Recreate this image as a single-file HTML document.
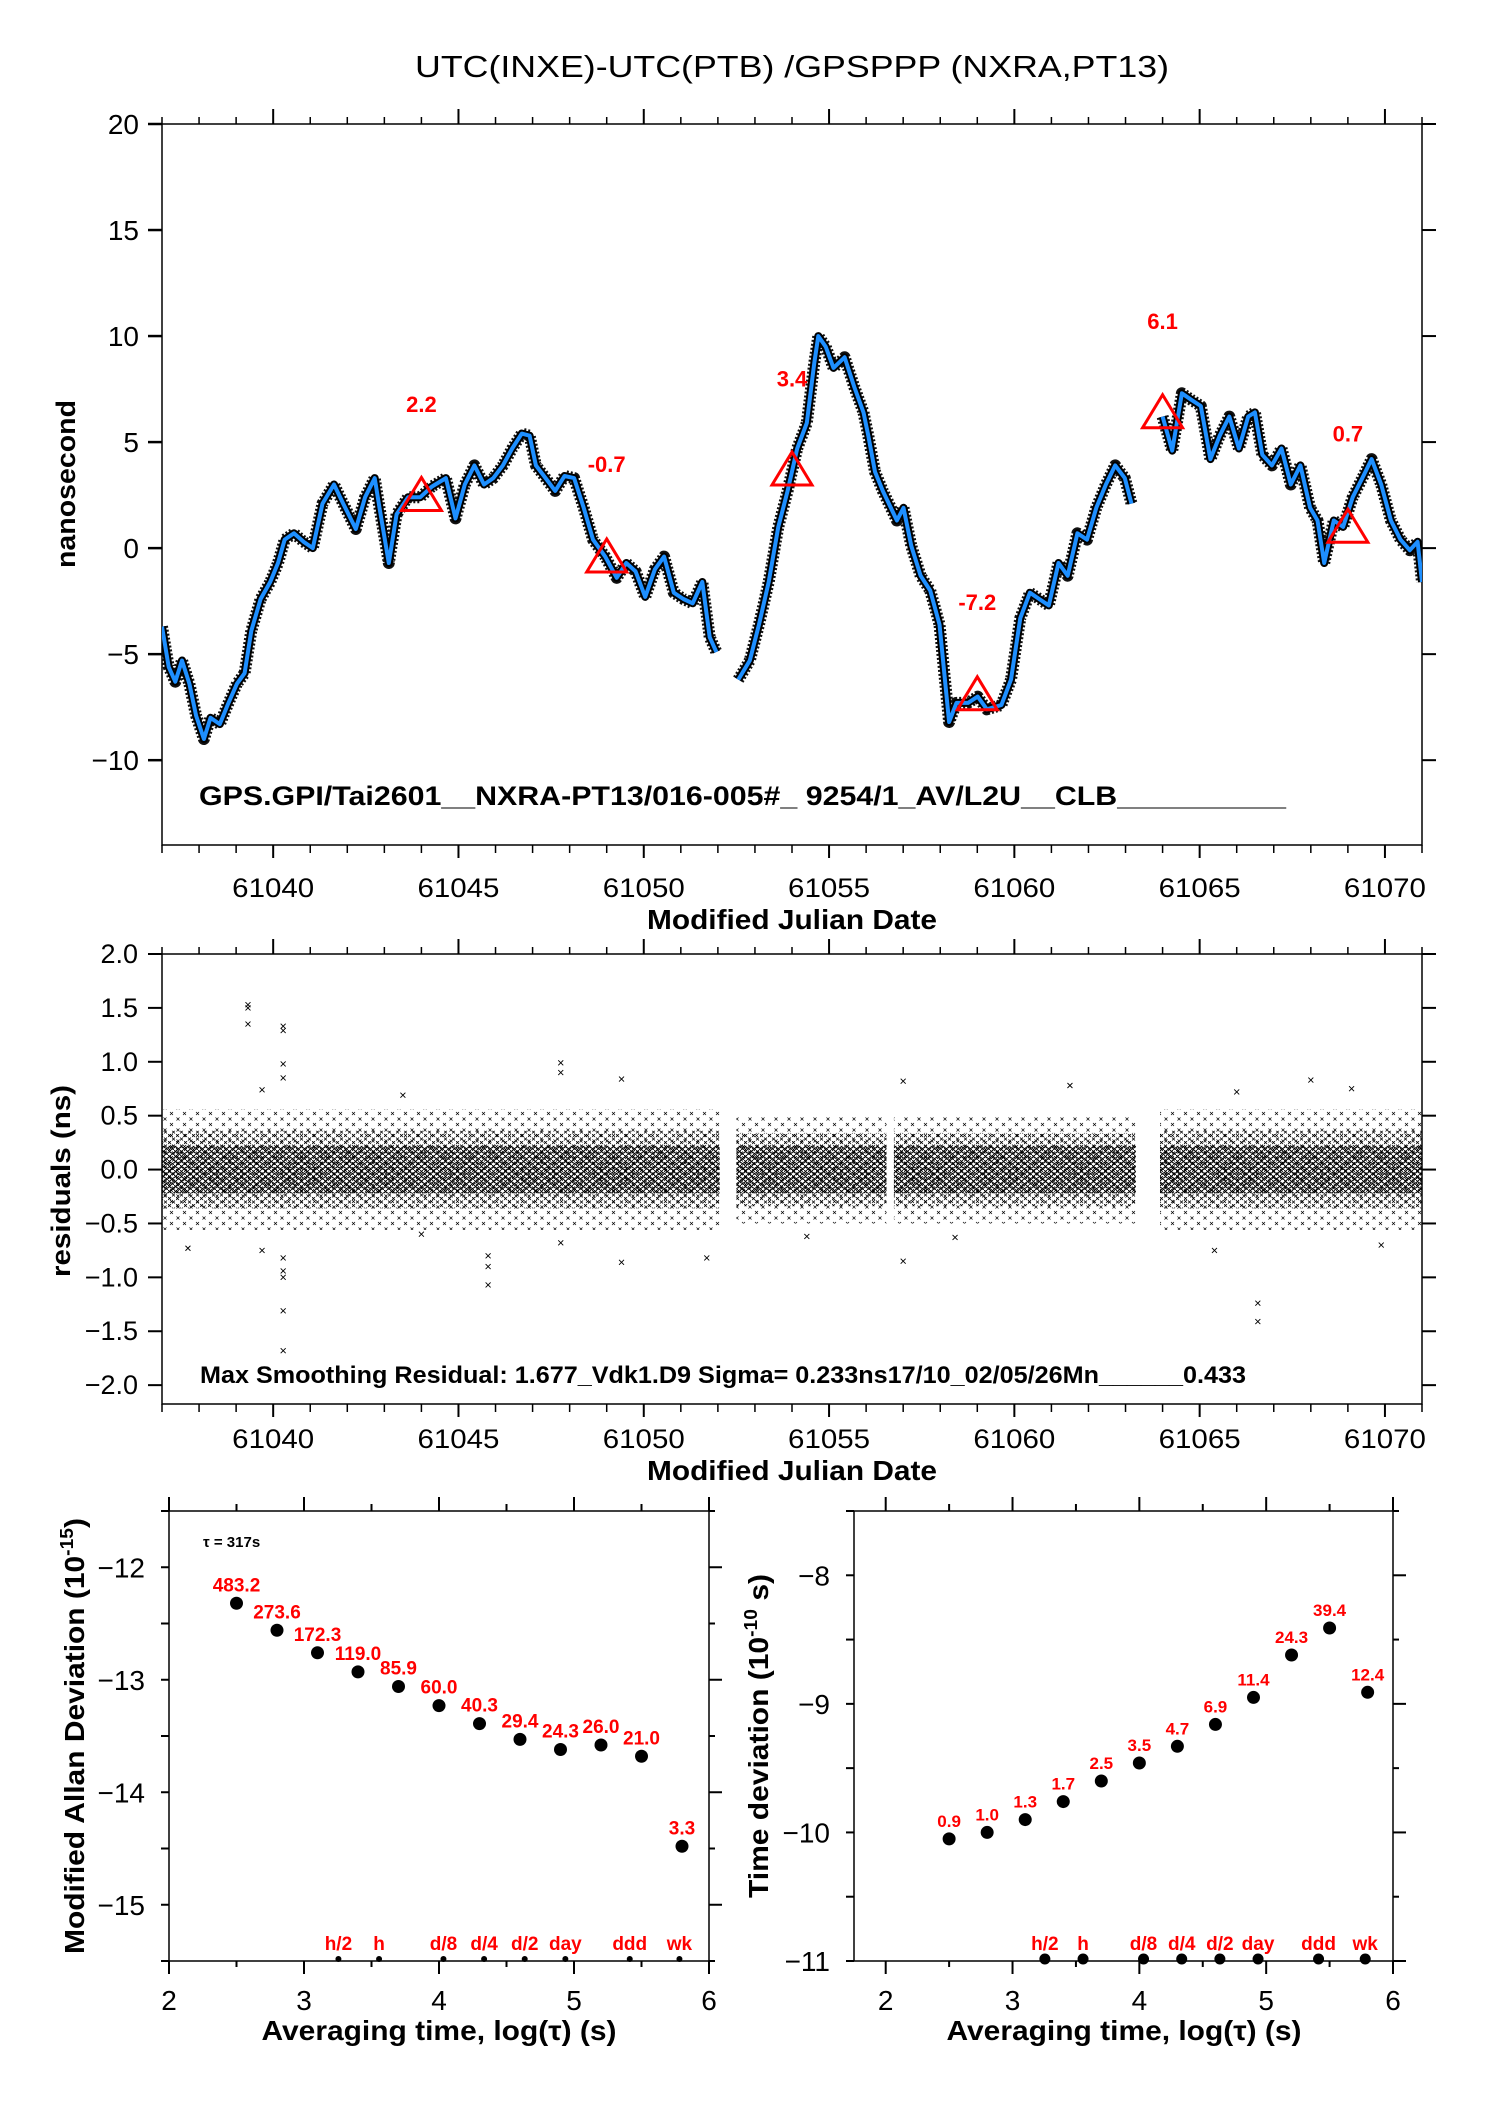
<!DOCTYPE html>
<html><head><meta charset="utf-8"><title>UTC(INXE)-UTC(PTB) GPSPPP</title>
<style>
html,body{margin:0;padding:0;background:#fff;}
svg{display:block;}
text{font-family:"Liberation Sans",Arial,sans-serif;}
</style></head>
<body>
<svg id="root" xmlns="http://www.w3.org/2000/svg" width="1488" height="2105" viewBox="0 0 1488 2105">
<defs>
<pattern id="xdense" patternUnits="userSpaceOnUse" width="6" height="5">
<path d="M0,0l3,3M3,0l-3,3M3,2.5l3,2.5M6,2.5l-3,2.5" stroke="#000" stroke-width="0.9" fill="none"/>
</pattern>
<pattern id="xmid" patternUnits="userSpaceOnUse" width="8" height="7">
<path d="M0,0l3,3M3,0l-3,3M4,3.5l3,3M7,3.5l-3,3" stroke="#000" stroke-width="0.8" fill="none"/>
</pattern>
<pattern id="xsparse" patternUnits="userSpaceOnUse" width="13" height="11">
<path d="M1,1l3,3M4,1l-3,3M7.5,6.5l3,3M10.5,6.5l-3,3" stroke="#000" stroke-width="0.7" fill="none"/>
</pattern>
<clipPath id="clipTop"><rect x="162" y="124" width="1260" height="721"/></clipPath>
<clipPath id="clipMid"><rect x="162" y="954" width="1260" height="450"/></clipPath>
</defs>
<rect width="1488" height="2105" fill="#fff"/>
<text x="792" y="77" text-anchor="middle" font-size="31" textLength="754" lengthAdjust="spacingAndGlyphs">UTC(INXE)-UTC(PTB)  /GPSPPP  (NXRA,PT13)</text>
<g id="gTop"></g>
<g id="gMid"></g>
<g id="gL"></g>
<g id="gR"></g>
</svg>
<script>
// ---------- time series (top) ----------
const tsDayOffset = [0,0.18,0.36,0.54,0.74,0.92,1.13,1.31,1.56,1.77,2.02,2.23,2.41,2.66,2.92,3.13,3.31,3.56,3.82,4.07,4.33,4.64,4.89,5.23,5.48,5.74,5.87,6.12,6.33,6.64,6.97,7.28,7.66,7.92,8.17,8.43,8.69,8.94,9.20,9.45,9.71,9.92,10.09,10.35,10.61,10.86,11.12,11.38,11.63,11.96,12.27,12.53,12.78,13.04,13.30,13.55,13.81,14.07,14.32,14.58,14.78,14.96,
15.55,15.86,16.11,16.37,16.63,16.88,17.14,17.40,17.60,17.71,17.91,18.12,18.42,18.68,18.93,19.06,19.24,19.45,
19.83,20.01,20.22,20.47,20.73,20.98,21.24,21.44,21.75,22.01,22.26,22.65,22.91,23.16,23.42,23.67,23.93,24.19,24.44,24.70,24.96,25.21,25.47,25.72,25.98,26.16,
27.00,27.26,27.52,27.77,28.03,28.29,28.54,28.80,29.06,29.31,29.49,29.69,29.95,30.21,30.46,30.72,30.98,31.18,31.36,31.62,31.87,32.13,32.39,32.64,32.90,33.16,33.42,33.67,33.88,34.00];
const tsValue = [-3.7,-5.6,-6.3,-5.3,-6.4,-7.9,-9.0,-8.0,-8.3,-7.4,-6.4,-5.9,-3.9,-2.4,-1.6,-0.7,0.4,0.7,0.3,0.0,2.1,3.0,2.1,0.9,2.4,3.3,1.9,-0.7,1.6,2.4,2.4,2.9,3.3,1.4,3.0,3.9,3.0,3.3,3.9,4.7,5.4,5.3,3.9,3.3,2.7,3.4,3.3,1.9,0.4,-0.4,-1.4,-0.7,-1.1,-2.3,-1.0,-0.4,-2.1,-2.4,-2.6,-1.6,-4.2,-4.9,
-6.2,-5.3,-3.6,-1.6,1.0,2.7,4.7,5.9,8.7,10.0,9.5,8.5,9.0,7.6,6.4,5.3,3.6,2.7,
1.3,1.9,0.1,-1.3,-2.0,-3.6,-8.2,-7.3,-7.3,-7.0,-7.6,-7.4,-6.2,-3.3,-2.1,-2.4,-2.7,-0.7,-1.3,0.7,0.4,1.9,3.0,3.9,3.3,2.1,
6.2,4.6,7.3,7.0,6.7,4.2,5.3,6.2,4.7,6.2,6.4,4.4,3.9,4.7,3.0,3.9,1.9,1.3,-0.7,1.3,1.0,2.4,3.3,4.2,3.0,1.3,0.4,-0.1,0.3,-1.6];
const triMJD = [61044,61049,61054,61059,61064,61069];
const triValue = [2.2,-0.7,3.4,-7.2,6.1,0.7];
const triLabelY = [6.8,3.96,8.0,-2.55,10.7,5.4];
const topYTicks = [-10,-5,0,5,10,15,20];
const mjdTicks = [61040,61045,61050,61055,61060,61065,61070];
// ---------- residuals (middle) ----------
const resSegStart = [61037.0,61052.5,61056.75,61063.93];
const resSegEnd = [61052.05,61056.55,61063.28,61071.0];
const resDenseHalf = [0.22,0.22,0.22,0.22];
const resMidHalf = [0.36,0.34,0.34,0.36];
const resSparseHalf = [0.56,0.5,0.5,0.56];
const outMJD = [61039.32,61039.32,61039.32,61040.27,61040.27,61040.27,61040.27,61040.27,61040.27,61040.27,61040.27,61040.27,61045.8,61045.8,61045.8,61047.76,61047.76,61047.76,61049.4,61049.4,61066.57,61066.57,61037.7,61044.0,61039.7,61039.7,61057.0,61057.0,61066.0,61068.0,61043.5,61051.7,61054.4,61058.4,61061.5,61065.4,61069.1,61069.9];
const outValue = [1.5,1.53,1.35,1.33,1.29,0.98,0.85,-0.82,-0.94,-1.0,-1.31,-1.68,-1.07,-0.9,-0.8,0.99,0.9,-0.68,0.84,-0.86,-1.24,-1.41,-0.73,-0.6,0.74,-0.75,0.82,-0.85,0.72,0.83,0.69,-0.82,-0.62,-0.63,0.78,-0.75,0.75,-0.7];
const midYTicks = [-2.0,-1.5,-1.0,-0.5,0.0,0.5,1.0,1.5,2.0];
// ---------- modified Allan deviation (bottom left) ----------
const logTau = [2.5,2.8,3.1,3.4,3.7,4.0,4.3,4.6,4.9,5.2,5.5,5.8];
const madValue = [-12.32,-12.56,-12.76,-12.93,-13.06,-13.23,-13.39,-13.53,-13.62,-13.58,-13.68,-14.48];
const madLabels = ["483.2","273.6","172.3","119.0","85.9","60.0","40.3","29.4","24.3","26.0","21.0","3.3"];
const madYTicks = [-15,-14,-13,-12];
// ---------- time deviation (bottom right) ----------
const tdevValue = [-10.05,-10.0,-9.90,-9.76,-9.60,-9.46,-9.33,-9.16,-8.95,-8.62,-8.41,-8.91];
const tdevLabels = ["0.9","1.0","1.3","1.7","2.5","3.5","4.7","6.9","11.4","24.3","39.4","12.4"];
const tdevYTicks = [-11,-10,-9,-8];
const markLog = [3.255,3.556,4.033,4.334,4.635,4.936,5.413,5.781];
const markLabels = ["h/2","h","d/8","d/4","d/2","day","ddd","wk"];
const logTicks = [2,3,4,5,6];

const NS='http://www.w3.org/2000/svg';
function mk(parent,tag,attrs,txt){const e=document.createElementNS(NS,tag);for(const k in attrs)e.setAttribute(k,attrs[k]);if(txt!==undefined)e.textContent=txt;parent.appendChild(e);return e;}
function fmtNeg(v,d){const s=Math.abs(v).toFixed(d);return (v<0?'\u2212':'')+s;}

const xT=m=>162+(m-61037)*1260/34;
const yT=v=>124+(20-v)*721/34;
const yM=v=>954+(2-v)*450/4.175;
const xL=l=>169+(l-2)*135;
const yL=v=>1511+(-11.5-v)*112.5;
const xR=l=>854+(l-1.75)*539/4.25;
const yR=v=>1511+(-7.5-v)*450/3.5;

// ===== TOP =====
const gTop=document.getElementById('gTop');
let fr=mk(gTop,'rect',{x:162,y:124,width:1260,height:721,fill:'none',stroke:'#000','stroke-width':1.5});


function mjdAxis(g,top,bot,labY,name){
  for(let d=61037;d<=61071;d++){
    const x=xT(d);const maj=d%5===0;
    let t=mk(g,'line',{x1:x,y1:top,x2:x,y2:top-(maj?15:7),stroke:'#000','stroke-width':maj?2:1.5});
    
    
    let b=mk(g,'line',{x1:x,y1:bot,x2:x,y2:bot+(maj?13:8),stroke:'#000','stroke-width':maj?2:1.5});
    
    
  }
  mjdTicks.forEach(d=>{
    let l=mk(g,'text',{x:xT(d),y:labY,'text-anchor':'middle','font-size':27,textLength:82,lengthAdjust:'spacingAndGlyphs'},String(d));
    
    
  });
  let xl=mk(g,'text',{x:792,y:labY+32,'text-anchor':'middle','font-size':28,'font-weight':'bold',textLength:290,lengthAdjust:'spacingAndGlyphs'},'Modified Julian Date');
  
  
}
mjdAxis(gTop,124,845,897,'top-x-axis-title');
topYTicks.forEach(v=>{
  const y=yT(v);
  let t=mk(gTop,'line',{x1:148,y1:y,x2:162,y2:y,stroke:'#000','stroke-width':2.5});
  
  
  let t2=mk(gTop,'line',{x1:1422,y1:y,x2:1436,y2:y,stroke:'#000','stroke-width':2});
  
  
  let l=mk(gTop,'text',{x:139,y:y+10,'text-anchor':'end','font-size':28},fmtNeg(v,0));
  
  
});
let yt=mk(gTop,'text',{x:0,y:0,'text-anchor':'middle','font-size':27,'font-weight':'bold',transform:'translate(75,484) rotate(-90)',textLength:168,lengthAdjust:'spacingAndGlyphs'},'nanosecond');


const segs=[];let cur=[];
for(let i=0;i<tsDayOffset.length;i++){
  if(i>0&&tsDayOffset[i]-tsDayOffset[i-1]>0.45){segs.push(cur);cur=[];}
  cur.push([xT(61037+tsDayOffset[i]),yT(tsValue[i])]);
}
segs.push(cur);
const gs=mk(gTop,'g',{'clip-path':'url(#clipTop)'});


segs.forEach(s=>{
  const d='M'+s.map(p=>p[0].toFixed(1)+','+p[1].toFixed(1)).join('L');
  let b=mk(gs,'path',{d:d,fill:'none',stroke:'#111','stroke-width':12,'stroke-linejoin':'round','stroke-dasharray':'2 2'});
  
  
  let b2=mk(gs,'path',{d:d,fill:'none',stroke:'#000','stroke-width':8,'stroke-linejoin':'round'});
  
  
  let ln=mk(gs,'path',{d:d,fill:'none',stroke:'#1e8fff','stroke-width':4,'stroke-linejoin':'round'});
  
  
});
triMJD.forEach((m,i)=>{
  const x=xT(m),y=yT(triValue[i]);
  let tr=mk(gTop,'path',{d:`M${x},${y-24}L${x+20},${y+9}L${x-20},${y+9}Z`,fill:'none',stroke:'#ff0000','stroke-width':3});
  
  
  let tl=mk(gTop,'text',{x:x,y:yT(triLabelY[i])+8,'text-anchor':'middle','font-size':22,'font-weight':'bold',fill:'#ff0000'},triValue[i].toFixed(1));
  
  
});
let ann=mk(gTop,'text',{x:199,y:805,'font-size':27,'font-weight':'bold',textLength:1087,lengthAdjust:'spacingAndGlyphs'},'GPS.GPI/Tai2601__NXRA-PT13/016-005#_  9254/1_AV/L2U__CLB__________');



// ===== MIDDLE =====
const gMid=document.getElementById('gMid');
let fr2=mk(gMid,'rect',{x:162,y:954,width:1260,height:450,fill:'none',stroke:'#000','stroke-width':1.5});


mjdAxis(gMid,954,1404,1448,'mid-x-axis-title');
midYTicks.forEach(v=>{
  const y=yM(v);
  let t=mk(gMid,'line',{x1:148,y1:y,x2:162,y2:y,stroke:'#000','stroke-width':2});
  
  
  let t2=mk(gMid,'line',{x1:1422,y1:y,x2:1436,y2:y,stroke:'#000','stroke-width':2});
  
  
  let l=mk(gMid,'text',{x:138,y:y+9,'text-anchor':'end','font-size':27},fmtNeg(v,1));
  
  
});
let yt2=mk(gMid,'text',{x:0,y:0,'text-anchor':'middle','font-size':27,'font-weight':'bold',transform:'translate(70,1181) rotate(-90)',textLength:192,lengthAdjust:'spacingAndGlyphs'},'residuals (ns)');


const gr=mk(gMid,'g',{'clip-path':'url(#clipMid)'});


resSegStart.forEach((s,i)=>{
  const x0=xT(s),x1=xT(resSegEnd[i]);
  let sp=mk(gr,'rect',{x:x0,y:yM(resSparseHalf[i]),width:x1-x0,height:yM(-resSparseHalf[i])-yM(resSparseHalf[i]),fill:'url(#xsparse)'});
  
  
  let md=mk(gr,'rect',{x:x0,y:yM(resMidHalf[i]),width:x1-x0,height:yM(-resMidHalf[i])-yM(resMidHalf[i]),fill:'url(#xmid)'});
  
  
  let dn=mk(gr,'rect',{x:x0,y:yM(resDenseHalf[i]),width:x1-x0,height:yM(-resDenseHalf[i])-yM(resDenseHalf[i]),fill:'url(#xdense)'});
  
  
});
outMJD.forEach((m,i)=>{
  const x=xT(m),y=yM(outValue[i]);
  let o=mk(gr,'path',{d:`M${x-2.5},${y-2.5}l5,5M${x+2.5},${y-2.5}l-5,5`,stroke:'#000','stroke-width':0.9});
  
  
});
let ann2=mk(gMid,'text',{x:200,y:1383,'font-size':24,'font-weight':'bold',textLength:1046,lengthAdjust:'spacingAndGlyphs'},'Max Smoothing Residual: 1.677_Vdk1.D9  Sigma= 0.233ns17/10_02/05/26Mn______0.433');



// ===== BOTTOM PANELS =====
function logPanel(g,xs,ys,x0,x1,yTicks,vals,labs,lblFs,dotR,markR,frameName){
  let f=mk(g,'rect',{x:x0,y:1511,width:x1-x0,height:450,fill:'none',stroke:'#000','stroke-width':1.5});
  
  
  for(let l=2;l<=6.001;l+=0.5){
    const x=xs(l);const maj=Math.abs(l-Math.round(l))<0.01;
    let t=mk(g,'line',{x1:x,y1:1511,x2:x,y2:1511-(maj?14:7),stroke:'#000','stroke-width':2});
    
    
    let b=mk(g,'line',{x1:x,y1:1961,x2:x,y2:1961+(maj?13:6),stroke:'#000','stroke-width':2});
    
    
  }
  logTicks.forEach(l=>{
    let t=mk(g,'text',{x:xs(l),y:2010,'text-anchor':'middle','font-size':28},String(l));
    
    
  });
  for(let v=yTicks[0]-0.5;v<=yTicks[yTicks.length-1]+0.51;v+=0.5){
    const y=ys(v);if(y<1510||y>1962)continue;
    const maj=Math.abs(v-Math.round(v))<0.01;
    let t=mk(g,'line',{x1:x0-8,y1:y,x2:x0,y2:y,stroke:'#000','stroke-width':2});
    
    
    let t2=mk(g,'line',{x1:x1,y1:y,x2:x1+(maj?13:6),y2:y,stroke:'#000','stroke-width':2});
    
    
  }
  yTicks.forEach(v=>{
    let l=mk(g,'text',{x:x0-24,y:ys(v)+10,'text-anchor':'end','font-size':28},fmtNeg(v,0));
    
    
  });
  logTau.forEach((l,i)=>{
    const x=xs(l),y=ys(vals[i]);
    let c=mk(g,'circle',{cx:x,cy:y,r:dotR,fill:'#000'});
    
    
    let t=mk(g,'text',{x:x,y:y-12,'text-anchor':'middle','font-size':lblFs,'font-weight':'bold',fill:'#ff0000'},labs[i]);
    
    
  });
  markLog.forEach((l,i)=>{
    const x=xs(l);
    let c=mk(g,'circle',{cx:x,cy:1959,r:markR,fill:'#000'});
    
    
    let t=mk(g,'text',{x:x,y:1950,'text-anchor':'middle','font-size':19,'font-weight':'bold',fill:'#ff0000'},markLabels[i]);
    
    
  });
}
const gL=document.getElementById('gL');
logPanel(gL,xL,yL,169,709,madYTicks,madValue,madLabels,19,6.5,3,'allan-plot-frame');
const gR=document.getElementById('gR');
logPanel(gR,xR,yR,854,1393,tdevYTicks,tdevValue,tdevLabels,17,6.5,5.5,'tdev-plot-frame');
let tauT=mk(gL,'text',{x:203,y:1547,'font-size':15,'font-weight':'bold'},'\u03C4 = 317s');


[[gL,439],[gR,1124]].forEach(([g,cx])=>{
  let t=mk(g,'text',{x:cx,y:2040,'text-anchor':'middle','font-size':28,'font-weight':'bold',textLength:355,lengthAdjust:'spacingAndGlyphs'},'Averaging time, log(\u03C4) (s)');
  
  
});
let ylL=mk(gL,'text',{x:0,y:0,'text-anchor':'middle','font-size':28,'font-weight':'bold',transform:'translate(84,1736) rotate(-90)',textLength:436,lengthAdjust:'spacingAndGlyphs'});


mk(ylL,'tspan',{},'Modified Allan Deviation (10');
mk(ylL,'tspan',{'font-size':18,dy:-11},'-15');
mk(ylL,'tspan',{dy:11},')');
let ylR=mk(gR,'text',{x:0,y:0,'text-anchor':'middle','font-size':28,'font-weight':'bold',transform:'translate(768,1736) rotate(-90)',textLength:324,lengthAdjust:'spacingAndGlyphs'});


mk(ylR,'tspan',{},'Time deviation (10');
mk(ylR,'tspan',{'font-size':18,dy:-11},'-10');
mk(ylR,'tspan',{dy:11},' s)');
</script>
</body></html>
